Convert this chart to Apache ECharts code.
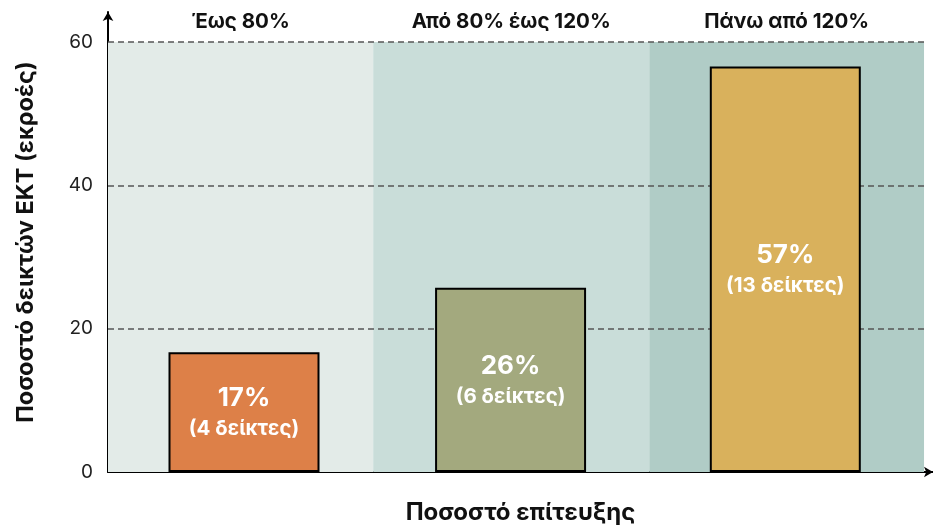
<!DOCTYPE html>
<html>
<head>
<meta charset="utf-8">
<script src="https://cdn.jsdelivr.net/npm/echarts@6/dist/echarts.min.js"></script>
<style>
  html, body { margin: 0; padding: 0; background: #fff; }
  #chart { width: 933px; height: 525px; }
</style>
</head>
<body>
<div id="chart"></div>
<script>
// ομάδες επίτευξης
var bandNames = ['Έως 80%', 'Από 80% έως 120%', 'Πάνω από 120%'];
var bandEdges = [-0.5, 0.475, 1.49, 2.5];
var bandColors = ['#e3ebe8', '#c9ddd9', '#b0ccc6'];
// ράβδοι
var barX = [0, 0.98, 1.99];
var barValues = [16.7, 25.7, 56.6];
var barCounts = [4, 6, 13];
var barColors = ['#dd8048', '#a3a97e', '#d9b15c'];
var gridValues = [20, 40, 60];

var font = 'Inter';

var barData = [];
for (var i = 0; i < barValues.length; i++) {
  barData.push({
    value: [barX[i], barValues[i]],
    itemStyle: { color: barColors[i] },
    count: barCounts[i]
  });
}

var areas = [];
for (var j = 0; j < bandNames.length; j++) {
  areas.push([
    { name: bandNames[j], xAxis: bandEdges[j], yAxis: 0, itemStyle: { color: bandColors[j], opacity: 1 } },
    { xAxis: bandEdges[j + 1], yAxis: 60 }
  ]);
}

var lines = [];
for (var k = 0; k < gridValues.length; k++) {
  lines.push([
    { coord: [bandEdges[0], gridValues[k]] },
    { coord: [bandEdges[bandEdges.length - 1], gridValues[k]] }
  ]);
}

var myChart = echarts.init(document.getElementById('chart'));
var option = {
  animation: false,
  grid: { left: 108, right: 0, top: 12, bottom: 53, outerBoundsMode: 'none' },
  xAxis: {
    type: 'value',
    min: -0.5,
    max: 2.533,
    axisLine: {
      show: true,
      onZero: false,
      lineStyle: { color: '#000', width: 2 },
      symbol: ['none', 'arrow'],
      symbolSize: [8, 9]
    },
    axisTick: { show: false },
    axisLabel: { show: false },
    splitLine: { show: false },
    name: 'Ποσοστό επίτευξης',
    nameLocation: 'middle',
    nameGap: 29,
    nameTextStyle: { fontFamily: font, fontSize: 24, fontWeight: 'bold', color: '#111' }
  },
  yAxis: {
    type: 'value',
    min: 0,
    max: 64.2,
    interval: 20,
    axisLine: {
      show: true,
      onZero: false,
      lineStyle: { color: '#000', width: 2 },
      symbol: ['none', 'arrow'],
      symbolSize: [8, 9]
    },
    axisTick: { show: false },
    axisLabel: {
      showMaxLabel: false,
      fontFamily: font,
      fontSize: 19,
      color: '#222',
      margin: 15
    },
    splitLine: { show: false },
    name: 'Ποσοστό δεικτών ΕΚΤ (εκροές)',
    nameLocation: 'middle',
    nameGap: 70,
    nameTextStyle: { fontFamily: font, fontSize: 23.5, fontWeight: 'bold', color: '#111' }
  },
  series: [
    {
      type: 'bar',
      barWidth: 151,
      data: barData,
      z: 5,
      itemStyle: { borderColor: '#000', borderWidth: 2 },
      label: {
        show: true,
        position: 'inside',
        formatter: function (p) {
          return '{a|' + Math.round(p.value[1]) + '%}\n{b|(' + p.data.count + ' δείκτες)}';
        },
        rich: {
          a: { fontFamily: font, fontSize: 26, fontWeight: 'bold', color: '#fff', lineHeight: 34 },
          b: { fontFamily: font, fontSize: 20.5, fontWeight: 'bold', color: '#fff', lineHeight: 28 }
        }
      },
      markArea: {
        silent: true,
        label: {
          show: true,
          position: 'top',
          distance: 10,
          fontFamily: font,
          fontSize: 20.5,
          fontWeight: 'bold',
          color: '#111'
        },
        data: areas
      },
      markLine: {
        silent: true,
        symbol: 'none',
        label: { show: false },
        lineStyle: { color: '#555', type: [6, 4], width: 1.5 },
        data: lines
      }
    }
  ]
};
option && myChart.setOption(option);
</script>
</body>
</html>
